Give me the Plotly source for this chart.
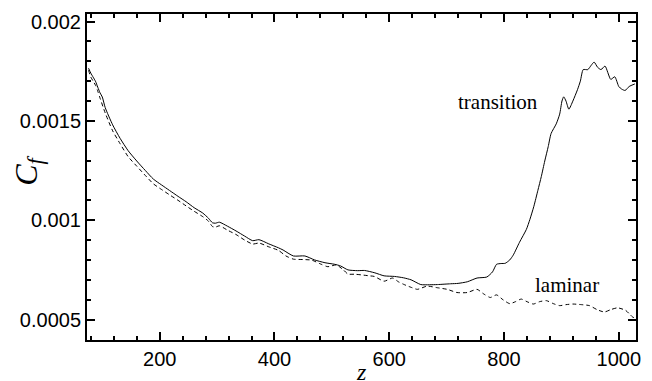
import plotly.graph_objects as go

z_transition = [76, 80, 84, 88, 92, 96, 100, 105, 118, 131, 145, 160, 175, 189, 203, 217, 232, 246, 260, 275,
                285, 292, 297, 304, 318, 333, 348, 362, 373, 390, 407, 415, 433, 453, 470, 488, 505, 515, 528, 545,
                557, 575, 591, 609, 625, 638, 655, 670, 684, 707, 720, 736, 753, 770, 780, 787, 795, 802, 810, 816,
                827, 839, 845, 852, 859, 865, 871, 877, 882, 891, 897, 901, 904, 908, 913, 920, 928, 933, 938, 946,
                952, 957, 963, 969, 976, 986, 993, 1000, 1005, 1011, 1018, 1028]
cf_transition = [0.001765, 0.00174, 0.00172, 0.00170, 0.00167, 0.001641, 0.00162, 0.001567, 0.00148, 0.001412,
                 0.00135, 0.001298, 0.00125, 0.001207, 0.001178, 0.00115, 0.00112, 0.001093, 0.001063, 0.001036,
                 0.00101, 0.000987, 0.000985, 0.00099, 0.00097, 0.000946, 0.00092, 0.000897, 0.000902, 0.000881,
                 0.000861, 0.00085, 0.00082, 0.00082, 0.00080, 0.000786, 0.000778, 0.00077, 0.00075, 0.000746,
                 0.000747, 0.000735, 0.00072, 0.000717, 0.00071, 0.0007, 0.000676, 0.000675, 0.000676, 0.00068,
                 0.000682, 0.00069, 0.000709, 0.000714, 0.00074, 0.000778, 0.000782, 0.000783, 0.0008, 0.000824,
                 0.000889, 0.000954, 0.001003, 0.00107, 0.00115, 0.00122, 0.001298, 0.00137, 0.001436, 0.001485,
                 0.001534, 0.00160, 0.001621, 0.0016, 0.001559, 0.0016, 0.001657, 0.0017, 0.001758, 0.001758,
                 0.00178, 0.001796, 0.00177, 0.001758, 0.001776, 0.001709, 0.001722, 0.001673, 0.00166, 0.001653,
                 0.001673, 0.001686]

z_laminar = [76, 80, 84, 88, 92, 96, 105, 118, 131, 145, 160, 175, 189, 203, 217, 232, 246, 260, 275, 285,
             292, 297, 304, 318, 333, 348, 362, 373, 390, 407, 420, 433, 450, 465, 480, 493, 508, 520, 528, 540,
             551, 565, 574, 591, 606, 616, 626, 640, 649, 666, 684, 701, 718, 736, 753, 764, 776, 787, 798, 810,
             820, 830, 840, 851, 862, 874, 886, 897, 908, 920, 935, 949, 962, 975, 986, 998, 1012, 1018, 1024, 1030]
cf_laminar = [0.001755, 0.00172, 0.0017, 0.00168, 0.00165, 0.001615, 0.00154, 0.00145, 0.001385, 0.00132,
              0.001272, 0.001225, 0.001183, 0.001155, 0.001128, 0.0011, 0.001072, 0.001045, 0.001018, 0.000995,
              0.000968, 0.000965, 0.000972, 0.00095, 0.000928, 0.0009, 0.00088, 0.000885, 0.000866, 0.000848,
              0.00082, 0.000804, 0.000802, 0.000799, 0.00078, 0.000766, 0.000775, 0.00075, 0.000729, 0.000728,
              0.000725, 0.00072, 0.000717, 0.000693, 0.000709, 0.00069, 0.000676, 0.00066, 0.000652, 0.000668,
              0.00066, 0.000652, 0.000636, 0.000636, 0.000652, 0.00063, 0.000611, 0.000624, 0.0006, 0.00058,
              0.00059, 0.000603, 0.00059, 0.000578, 0.00059, 0.000595, 0.00058, 0.00057, 0.000575, 0.000578,
              0.000575, 0.00057, 0.00055, 0.000538, 0.00055, 0.000559, 0.000546, 0.00053, 0.000513, 0.000505]

y_tickvals = [0.0005, 0.001, 0.0015, 0.002]
y_ticktext = ["0.0005", "0.001", "0.0015", "0.002"]
x_tickvals = [200, 400, 600, 800, 1000]

fig = go.Figure()
fig.add_trace(go.Scatter(x=z_transition, y=cf_transition, mode="lines",
                         line=dict(color="black", width=1, shape="spline", smoothing=0.6),
                         showlegend=False))
fig.add_trace(go.Scatter(x=z_laminar, y=cf_laminar, mode="lines",
                         line=dict(color="black", width=1, dash="4px,3px", shape="spline", smoothing=0.6),
                         showlegend=False))

tickfont = dict(family="Liberation Sans, Arial, sans-serif", size=20, color="black")
fig.update_xaxes(range=[73.3, 1030], tickvals=x_tickvals, ticks="inside", ticklen=8, tickwidth=1.5,
                 tickcolor="black", showline=True, linecolor="black", linewidth=2, mirror="ticks",
                 showgrid=False, zeroline=False, tickfont=tickfont,
                 minor=dict(dtick=40, tick0=0, ticks="inside", ticklen=4, tickcolor="black", showgrid=False))
fig.update_yaxes(range=[0.000397, 0.002038], tickvals=y_tickvals, ticktext=y_ticktext, ticks="inside",
                 ticklen=8, tickwidth=1.5, tickcolor="black", showline=True, linecolor="black", linewidth=2,
                 mirror="ticks", showgrid=False, zeroline=False, tickfont=tickfont,
                 minor=dict(dtick=0.0001, tick0=0, ticks="inside", ticklen=4, tickcolor="black", showgrid=False))

serif = "Liberation Serif, Times New Roman, serif"
fig.add_annotation(x=789, y=0.001593, xref="x", yref="y", text="transition", showarrow=False,
                   font=dict(family=serif, size=21, color="black"))
fig.add_annotation(x=910, y=0.000672, xref="x", yref="y", text="laminar", showarrow=False,
                   font=dict(family=serif, size=21, color="black"))
fig.add_annotation(x=-0.148, y=0.52, xref="paper", yref="paper",
                   text="<i>C</i><sub><i>f</i></sub>",
                   showarrow=False, textangle=-90, font=dict(family=serif, size=32, color="black"))
fig.add_annotation(x=0.5, y=0, xref="paper", yref="paper", text="<i>z</i>", yanchor="middle",
                   yshift=-32, showarrow=False, font=dict(family=serif, size=24, color="black"))

fig.update_layout(width=652, height=381, margin=dict(l=87, r=11, t=12, b=34),
                  paper_bgcolor="white", plot_bgcolor="white")
fig.write_html("out.html")
